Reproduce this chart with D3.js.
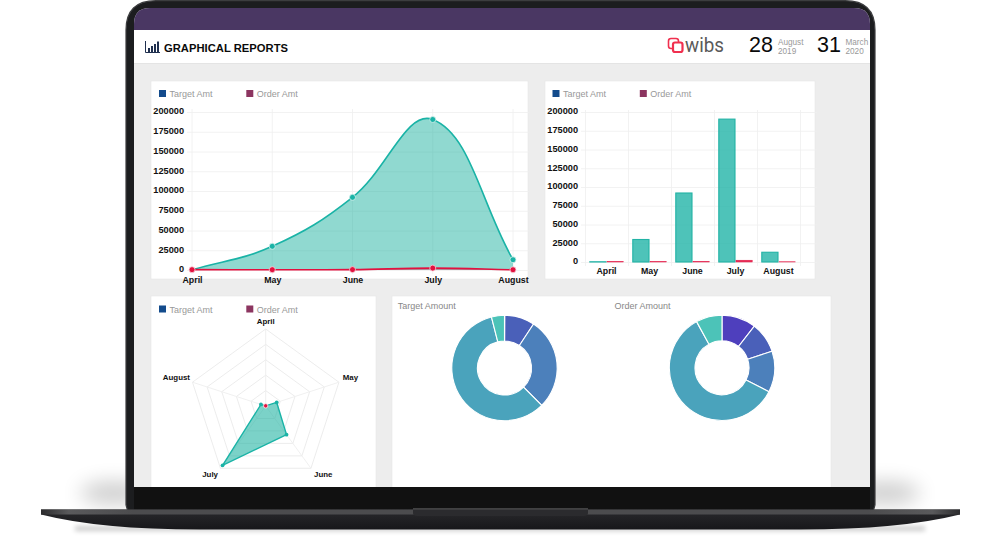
<!DOCTYPE html>
<html><head><meta charset="utf-8">
<script src="https://cdnjs.cloudflare.com/ajax/libs/d3/7.8.5/d3.min.js"></script>
<style>
html,body{margin:0;padding:0;background:#fff;overflow:hidden}
svg{display:block}
text{font-family:"Liberation Sans",Arial,sans-serif}
.tick-lbl{font-weight:700;font-size:9.2px;fill:#111}
.x-lbl{font-weight:700;font-size:8.8px;fill:#111}
.radar-lbl{font-weight:700;font-size:7.9px;fill:#111}
.legend{font-size:9px;fill:#999}
</style></head><body>
<script>
const months = ["April","May","June","July","August"];
const targetAmt = [300,30000,92000,190500,13000];
const orderAmt = [420,376,504,2380,320];
const yTicks = [0,25000,50000,75000,100000,125000,150000,175000,200000];
const legendNames = ["Target Amt","Order Amt"];
const legendColors = ["#134b8c","#8c3560"];
const donutColors = ["#4e3fbd","#4a60b9","#4c80bb","#4aa3bc","#4cc3b8"];
const teal="#1ab3a6", red="#e2113f", tealFill="rgba(28,178,160,0.49)", barFill="rgba(28,178,165,0.78)";

const svg=d3.select("body").append("svg").attr("width",1000).attr("height",539);
const defs=svg.append("defs");
defs.append("filter").attr("id","blur").attr("x","-50%").attr("y","-100%").attr("width","200%").attr("height","300%")
  .append("feGaussianBlur").attr("stdDeviation",10);
defs.append("filter").attr("id","blur2").attr("x","-10%").attr("y","-200%").attr("width","120%").attr("height","500%")
  .append("feGaussianBlur").attr("stdDeviation",2.5);
const lg=defs.append("linearGradient").attr("id","base").attr("x1",0).attr("x2",0).attr("y1",0).attr("y2",1);
lg.append("stop").attr("offset",0).attr("stop-color","#2a2a2d");
lg.append("stop").attr("offset",1).attr("stop-color","#17171a");
const lp=defs.append("linearGradient").attr("id","lip").attr("x1",0).attr("x2",1).attr("y1",0).attr("y2",0);
[[0,"#2b2b2d"],[0.03,"#5a5a5c"],[0.1,"#4c4c4e"],[0.9,"#4c4c4e"],[0.97,"#5a5a5c"],[1,"#2b2b2d"]]
 .forEach(s=>lp.append("stop").attr("offset",s[0]).attr("stop-color",s[1]));

// shadows
const sh=svg.append("g");
sh.append("ellipse").attr("cx",114).attr("cy",493).attr("rx",34).attr("ry",11).attr("fill","#000").attr("opacity",.2).attr("filter","url(#blur)");
sh.append("ellipse").attr("cx",886).attr("cy",493).attr("rx",34).attr("ry",11).attr("fill","#000").attr("opacity",.2).attr("filter","url(#blur)");
sh.append("rect").attr("x",75).attr("y",526).attr("width",850).attr("height",5).attr("fill","#000").attr("opacity",.2).attr("filter","url(#blur2)");

// laptop body
svg.append("path").attr("d","M126,505V30Q126,0.7 156,0.7H845Q875,0.7 875,30V505L873,512H128Z")
  .attr("fill","#1c1d1f").attr("stroke","#3c3d3f").attr("stroke-width",1.2);
svg.append("rect").attr("x",134).attr("y",487).attr("width",736).attr("height",24).attr("fill","#111");
svg.append("path").attr("d","M41,509.5H960V514.5Q900,529.5 800,529.5H200Q100,529.5 41,514.5Z").attr("fill","url(#base)");
svg.append("rect").attr("x",41).attr("y",509.5).attr("width",919).attr("height",5).attr("fill","url(#lip)");
svg.append("path").attr("d","M413,508.5H588V513Q588,516 584,516H417Q413,516 413,513Z").attr("fill","#2b2b2e");
svg.append("rect").attr("x",413).attr("y",508.5).attr("width",175).attr("height",.8).attr("fill","#666");

// screen
defs.append("clipPath").attr("id","scr").append("path").attr("d","M134,487V24Q134,8 150,8H854Q870,8 870,24V487Z");
const s=svg.append("g").attr("clip-path","url(#scr)");
s.append("rect").attr("x",134).attr("y",8).attr("width",736).attr("height",479).attr("fill","#ededed");
s.append("rect").attr("x",134).attr("y",8).attr("width",736).attr("height",22).attr("fill","#4a3763");
s.append("rect").attr("x",134).attr("y",30).attr("width",736).attr("height",33).attr("fill","#fff");
s.append("rect").attr("x",134).attr("y",63).attr("width",736).attr("height",1).attr("fill","#e4e4e4");

// header
const ic=s.append("g").attr("fill","#20304f");
ic.append("path").attr("d","M145.5,41V52.5H160").attr("fill","none").attr("stroke","#20304f").attr("stroke-width",1);
[[148,48,4],[151,46,6],[154,44,8],[157,41.5,10.5]].forEach(b=>ic.append("rect").attr("x",b[0]).attr("y",b[1]).attr("width",2).attr("height",b[2]));
s.append("text").attr("x",164).attr("y",52).attr("font-size",11.2).attr("font-weight",700).attr("fill","#0a0a0a").attr("textLength",124).text("GRAPHICAL REPORTS");
s.append("rect").attr("x",668.5).attr("y",38.5).attr("width",10).attr("height",10).attr("rx",2.5).attr("fill","none").attr("stroke","#f0304f").attr("stroke-width",1.6);
s.append("rect").attr("x",673).attr("y",42.5).attr("width",9.5).attr("height",9.5).attr("rx",2).attr("fill","#fff").attr("stroke","#f0304f").attr("stroke-width",2.2);
s.append("text").attr("x",685).attr("y",52).attr("font-size",21).attr("font-weight",400).attr("fill","#5a5a5a").attr("textLength",39).attr("lengthAdjust","spacingAndGlyphs").style("font-family","Roboto").text("wibs");
[[749,778,"28","August","2019"],[817,845.5,"31","March","2020"]].forEach(d=>{
  s.append("text").attr("x",d[0]).attr("y",52).attr("font-size",21.5).attr("fill","#0a0a0a").text(d[2]);
  s.append("text").attr("x",d[1]).attr("y",44.5).attr("font-size",8.2).attr("fill","#999").text(d[3]);
  s.append("text").attr("x",d[1]).attr("y",53.5).attr("font-size",8.2).attr("fill","#999").text(d[4]);
});

// cards
const cards=[[151,81,377,198],[545,81,270,198],[151,296,225,195],[392,296,439,195]];
cards.forEach(c=>s.append("rect").attr("x",c[0]).attr("y",c[1]).attr("width",c[2]).attr("height",c[3]).attr("fill","#fff").attr("stroke","#e6e6e6").attr("stroke-width",.6));

function legend(x,y){
  legendNames.forEach((n,i)=>{
    const lx=x+i*87.3;
    s.append("rect").attr("x",lx).attr("y",y).attr("width",7).attr("height",7).attr("fill",legendColors[i]);
    s.append("text").attr("class","legend").attr("x",lx+10.5).attr("y",y+7).text(n);
  });
}
legend(159,90); legend(552.5,90); legend(159,305.5);

const grid="#efefef";
function yAxis(y,x0,x1){
  const g=s.append("g").attr("transform",`translate(${x0},0)`)
    .call(d3.axisLeft(y).tickValues(yTicks).tickFormat(d3.format("d")).tickSize(0).tickPadding(3));
  g.select(".domain").remove();
  g.selectAll("text").attr("class","tick-lbl").attr("dy","0.2em").style("font-family",'"Liberation Sans"');
  g.selectAll(".tick line").attr("x2",x1-x0).attr("stroke",grid).attr("stroke-width",.8);
  return g;
}

// line chart
const xL=d3.scalePoint().domain(months).range([192,513]);
const yL=d3.scaleLinear().domain([0,200000]).range([270,112]);
xL.domain().forEach(m=>s.append("line").attr("x1",xL(m)).attr("x2",xL(m)).attr("y1",109).attr("y2",274).attr("stroke",grid).attr("stroke-width",.8));
yAxis(yL,187,529);
// Spline with distance-weighted control points
function splineCurve(ctx){
  let pts=[];
  return {
    areaStart(){},areaEnd(){},
    lineStart(){pts=[]},
    lineEnd(){
      const t=0.4,n=pts.length,c=[];
      for(let i=0;i<n;i++){
        const p=pts[Math.max(i-1,0)],q=pts[i],r=pts[Math.min(i+1,n-1)];
        const a=Math.hypot(q[0]-p[0],q[1]-p[1]),b=Math.hypot(r[0]-q[0],r[1]-q[1]);
        const fa=a+b?t*a/(a+b):0,fb=a+b?t*b/(a+b):0;
        c.push({px:q[0]-fa*(r[0]-p[0]),py:Math.min(270,q[1]-fa*(r[1]-p[1])),nx:q[0]+fb*(r[0]-p[0]),ny:Math.min(270,q[1]+fb*(r[1]-p[1]))});
      }
      ctx.moveTo(pts[0][0],pts[0][1]);
      for(let i=1;i<n;i++) ctx.bezierCurveTo(c[i-1].nx,c[i-1].ny,c[i].px,c[i].py,pts[i][0],pts[i][1]);
    },
    point(x,y){pts.push([x,y])}
  };
}
function spline(vals){
  const l=d3.line().x((d,i)=>xL(months[i])).y(d=>yL(d)).curve(splineCurve);
  return l(vals);
}
s.append("path").attr("d",spline(targetAmt)+`L${xL("August")},${yL(0)}L${xL("April")},${yL(0)}Z`).attr("fill",tealFill);
s.append("path").attr("d",spline(targetAmt)).attr("fill","none").attr("stroke",teal).attr("stroke-width",1.6);
s.append("path").attr("d",spline(orderAmt)+`L${xL("August")},${yL(0)}L${xL("April")},${yL(0)}Z`).attr("fill","rgba(226,17,63,.3)");
s.append("path").attr("d",spline(orderAmt)).attr("fill","none").attr("stroke",red).attr("stroke-width",1.6);
s.selectAll(".pt").data(targetAmt.slice(1)).join("circle").attr("class","pt").attr("cx",(d,i)=>xL(months[i+1])).attr("cy",d=>yL(d)).attr("r",3).attr("fill",teal).attr("stroke","#d8f1ee").attr("stroke-width",.8);
s.selectAll(".po").data(orderAmt).join("circle").attr("class","po").attr("cx",(d,i)=>xL(months[i])).attr("cy",d=>yL(d)).attr("r",3).attr("fill",red).attr("stroke","#f7d5dc").attr("stroke-width",.8);
const xLa=s.append("g").attr("transform","translate(0,272)").call(d3.axisBottom(xL).tickSize(0).tickPadding(5));
xLa.select(".domain").remove();
xLa.selectAll("text").attr("class","x-lbl").style("font-family",'"Liberation Sans"');

// bar chart
const xB=d3.scaleBand().domain(months).range([585,800]);
const xB2=d3.scaleBand().domain(["t","o"]).range([xB.bandwidth()*0.1,xB.bandwidth()*0.9]);
const yB=d3.scaleLinear().domain([0,200000]).range([262,112]);
months.concat(["end"]).forEach((m,i)=>{const x=585.5+i*xB.bandwidth();s.append("line").attr("x1",x).attr("x2",x).attr("y1",110).attr("y2",266).attr("stroke",grid).attr("stroke-width",.8);});
yAxis(yB,581,817);
[["t",targetAmt,barFill,"#22b3a5",1.1],["o",orderAmt,"rgba(226,17,63,.85)",red,0.5]].forEach(d=>{
  s.selectAll(".b"+d[0]).data(d[1]).join("rect").attr("class","b"+d[0])
    .attr("x",(v,i)=>xB(months[i])+xB2(d[0])+.5).attr("width",xB2.bandwidth()-1)
    .attr("y",v=>yB(v)).attr("height",v=>yB(0)-yB(v))
    .attr("fill",d[2]).attr("stroke",d[3]).attr("stroke-width",d[4]);
});
const xBa=s.append("g").attr("transform","translate(0,263)").call(d3.axisBottom(xB).tickSize(0).tickPadding(5));
xBa.select(".domain").remove();
xBa.selectAll("text").attr("class","x-lbl").style("font-family",'"Liberation Sans"');

// radar
const cx=265.7,cy=406;
const rS=d3.scaleLinear().domain([0,200000]).range([0,77]);
const rad=d3.scaleBand().domain(months).range([0,2*Math.PI]);
const pos=(m,v)=>{const a=rad(m),r=rS(v);return [cx+r*Math.sin(a),cy-r*Math.cos(a)];};
[40000,80000,120000,160000,200000].forEach(v=>{
  s.append("path").attr("d",d3.line()(months.map(m=>pos(m,v)))+"Z").attr("fill","none").attr("stroke","#eaeaea").attr("stroke-width",.9);
});
months.forEach(m=>{const p=pos(m,200000);s.append("line").attr("x1",cx).attr("y1",cy).attr("x2",p[0]).attr("y2",p[1]).attr("stroke","#eeeeee").attr("stroke-width",.9);});
const radarLine=d3.line().x((d,i)=>pos(months[i],d)[0]).y((d,i)=>pos(months[i],d)[1]);
s.append("path").attr("d",radarLine(targetAmt)+"Z").attr("fill","rgba(28,178,160,.58)").attr("stroke",teal).attr("stroke-width",1.4);
s.append("path").attr("d",radarLine(orderAmt)+"Z").attr("fill","rgba(226,17,63,.3)").attr("stroke",red).attr("stroke-width",1);
s.selectAll(".rt").data(targetAmt).join("circle").attr("class","rt").attr("cx",(d,i)=>pos(months[i],d)[0]).attr("cy",(d,i)=>pos(months[i],d)[1]).attr("r",1.9).attr("fill",teal);
s.selectAll(".ro").data(orderAmt.slice(0,1)).join("circle").attr("class","ro").attr("cx",(d,i)=>pos(months[i],d)[0]).attr("cy",(d,i)=>pos(months[i],d)[1]).attr("r",2.2).attr("fill",red).attr("stroke","#f9dfe4").attr("stroke-width",.9);
const radarLbl=[["middle",265.7,323.8],["start",342.7,380],["start",314,477],["end",218,477],["end",190,380]];
months.forEach((m,i)=>s.append("text").attr("class","radar-lbl").attr("text-anchor",radarLbl[i][0]).attr("x",radarLbl[i][1]).attr("y",radarLbl[i][2]).text(m));

// donuts
function donut(vals,x,y,title,tx){
  const arcs=d3.pie().sort(null)(vals);
  const arc=d3.arc().innerRadius(27).outerRadius(52.7);
  const g=s.append("g").attr("transform",`translate(${x},${y})`);
  g.selectAll("path").data(arcs).join("path").attr("d",arc).attr("fill",(d,i)=>donutColors[i]).attr("stroke","#fff").attr("stroke-width",1.1);
  s.append("text").attr("x",tx).attr("y",309).attr("font-size",9).attr("fill","#888").text(title);
}
donut(targetAmt,504.5,368,"Target Amount",397.7);
donut(orderAmt,722,367.8,"Order Amount",614.5);
</script>
</body></html>
